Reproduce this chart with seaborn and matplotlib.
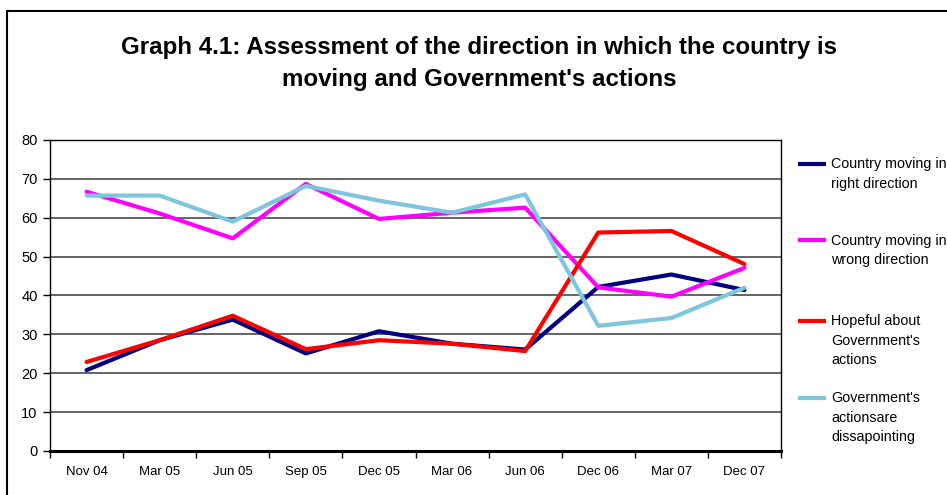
import matplotlib
matplotlib.use("Agg")
import matplotlib.pyplot as plt
from matplotlib.lines import Line2D
from matplotlib.patches import Rectangle
import numpy as np
import pandas as pd
import seaborn as sns

# Survey waves
periods = ["Nov 04", "Mar 05", "Jun 05", "Sep 05", "Dec 05",
           "Mar 06", "Jun 06", "Dec 06", "Mar 07", "Dec 07"]

# Share of respondents (%)
right_direction = [20.8, 28.5, 33.8, 25.1, 30.8, 27.6, 26.1, 42.2, 45.4, 41.4]
wrong_direction = [66.7, 61.1, 54.7, 68.7, 59.7, 61.3, 62.6, 42.1, 39.7, 47.1]
hopeful_gov = [22.9, 28.5, 34.8, 26.2, 28.5, 27.6, 25.7, 56.2, 56.6, 48.1]
disappointing_gov = [65.7, 65.7, 59.0, 68.2, 64.4, 61.3, 66.0, 32.2, 34.2, 42.0]

series_labels = ["Country moving in\nright direction",
                 "Country moving in\nwrong direction",
                 "Hopeful about\nGovernment's\nactions",
                 "Government's\nactionsare\ndissapointing"]
series_values = [right_direction, wrong_direction, hopeful_gov, disappointing_gov]
series_colors = ["#000080", "#FF00FF", "#FF0000", "#7DC6DB"]

y_ticks = [0, 10, 20, 30, 40, 50, 60, 70, 80]

df = pd.DataFrame({
    "pos": np.tile(np.arange(len(periods)), len(series_labels)),
    "value": np.concatenate(series_values),
    "series": np.repeat(series_labels, len(periods)),
})

sns.set_style("white")
plt.rcParams["font.family"] = ["Liberation Sans", "DejaVu Sans"]
plt.rcParams["text.color"] = "black"
plt.rcParams["xtick.color"] = "black"
plt.rcParams["ytick.color"] = "black"

W, H = 947, 495
fig = plt.figure(figsize=(W / 100, H / 100), dpi=100)
ax = fig.add_axes([50 / W, 1 - 451 / H, (781 - 50) / W, (451 - 140) / H])

sns.lineplot(data=df, x="pos", y="value", hue="series", hue_order=series_labels,
             palette=series_colors, linewidth=3.0, sort=False, legend=False,
             ax=ax)

ax.set_xlim(-0.5, len(periods) - 0.5)
ax.set_ylim(0, 80)
ax.set_xlabel("")
ax.set_ylabel("")

# Gridlines
ax.set_yticks(y_ticks)
ax.yaxis.grid(True, color="#3a3a3a", linewidth=1.1)
ax.set_axisbelow(True)
ax.tick_params(axis="y", which="major", direction="out", length=5, width=1,
               color="black", labelcolor="black", labelsize=10.5, pad=4,
               left=True)

# Category labels centred between boundary ticks
ax.set_xticks(np.arange(len(periods)))
ax.set_xticklabels(periods)
ax.set_xticks(np.arange(-0.5, len(periods)), minor=True)
ax.tick_params(axis="x", which="major", length=0, labelsize=9.5, pad=10.5,
               labelcolor="black")
ax.tick_params(axis="x", which="minor", direction="out", length=5, width=1,
               color="black", bottom=True)

for side in ["left", "top", "right"]:
    ax.spines[side].set_visible(True)
    ax.spines[side].set_color("black")
    ax.spines[side].set_linewidth(1.0)
ax.spines["bottom"].set_color("black")
ax.spines["bottom"].set_linewidth(2.2)

# Title (baseline of the second line)
fig.text(479 / W, 1 - 86 / H,
         "Graph 4.1: Assessment of the direction in which the country is\n"
         "moving and Government's actions",
         ha="center", va="baseline", fontsize=17.4, fontweight="bold",
         linespacing=1.49, color="black")

# Legend entries, key aligned with the first text line
key_y = [164, 240, 321, 398]
for label, color, ky in zip(series_labels, series_colors, key_y):
    fig.add_artist(Line2D([798 / W, 826 / W], [1 - ky / H, 1 - ky / H],
                          color=color, linewidth=3.0, solid_capstyle="butt"))
    fig.text(831 / W, 1 - (ky - 6.5) / H, label, ha="left", va="top",
             fontsize=10.3, linespacing=1.48, color="black")

# Outer frame
fig.add_artist(Rectangle((7 / W, -0.1), 1.2, (1 - 11 / H) + 0.1,
                         transform=fig.transFigure, fill=False,
                         edgecolor="black", linewidth=1.5))

fig.savefig("out.png", dpi=100)
